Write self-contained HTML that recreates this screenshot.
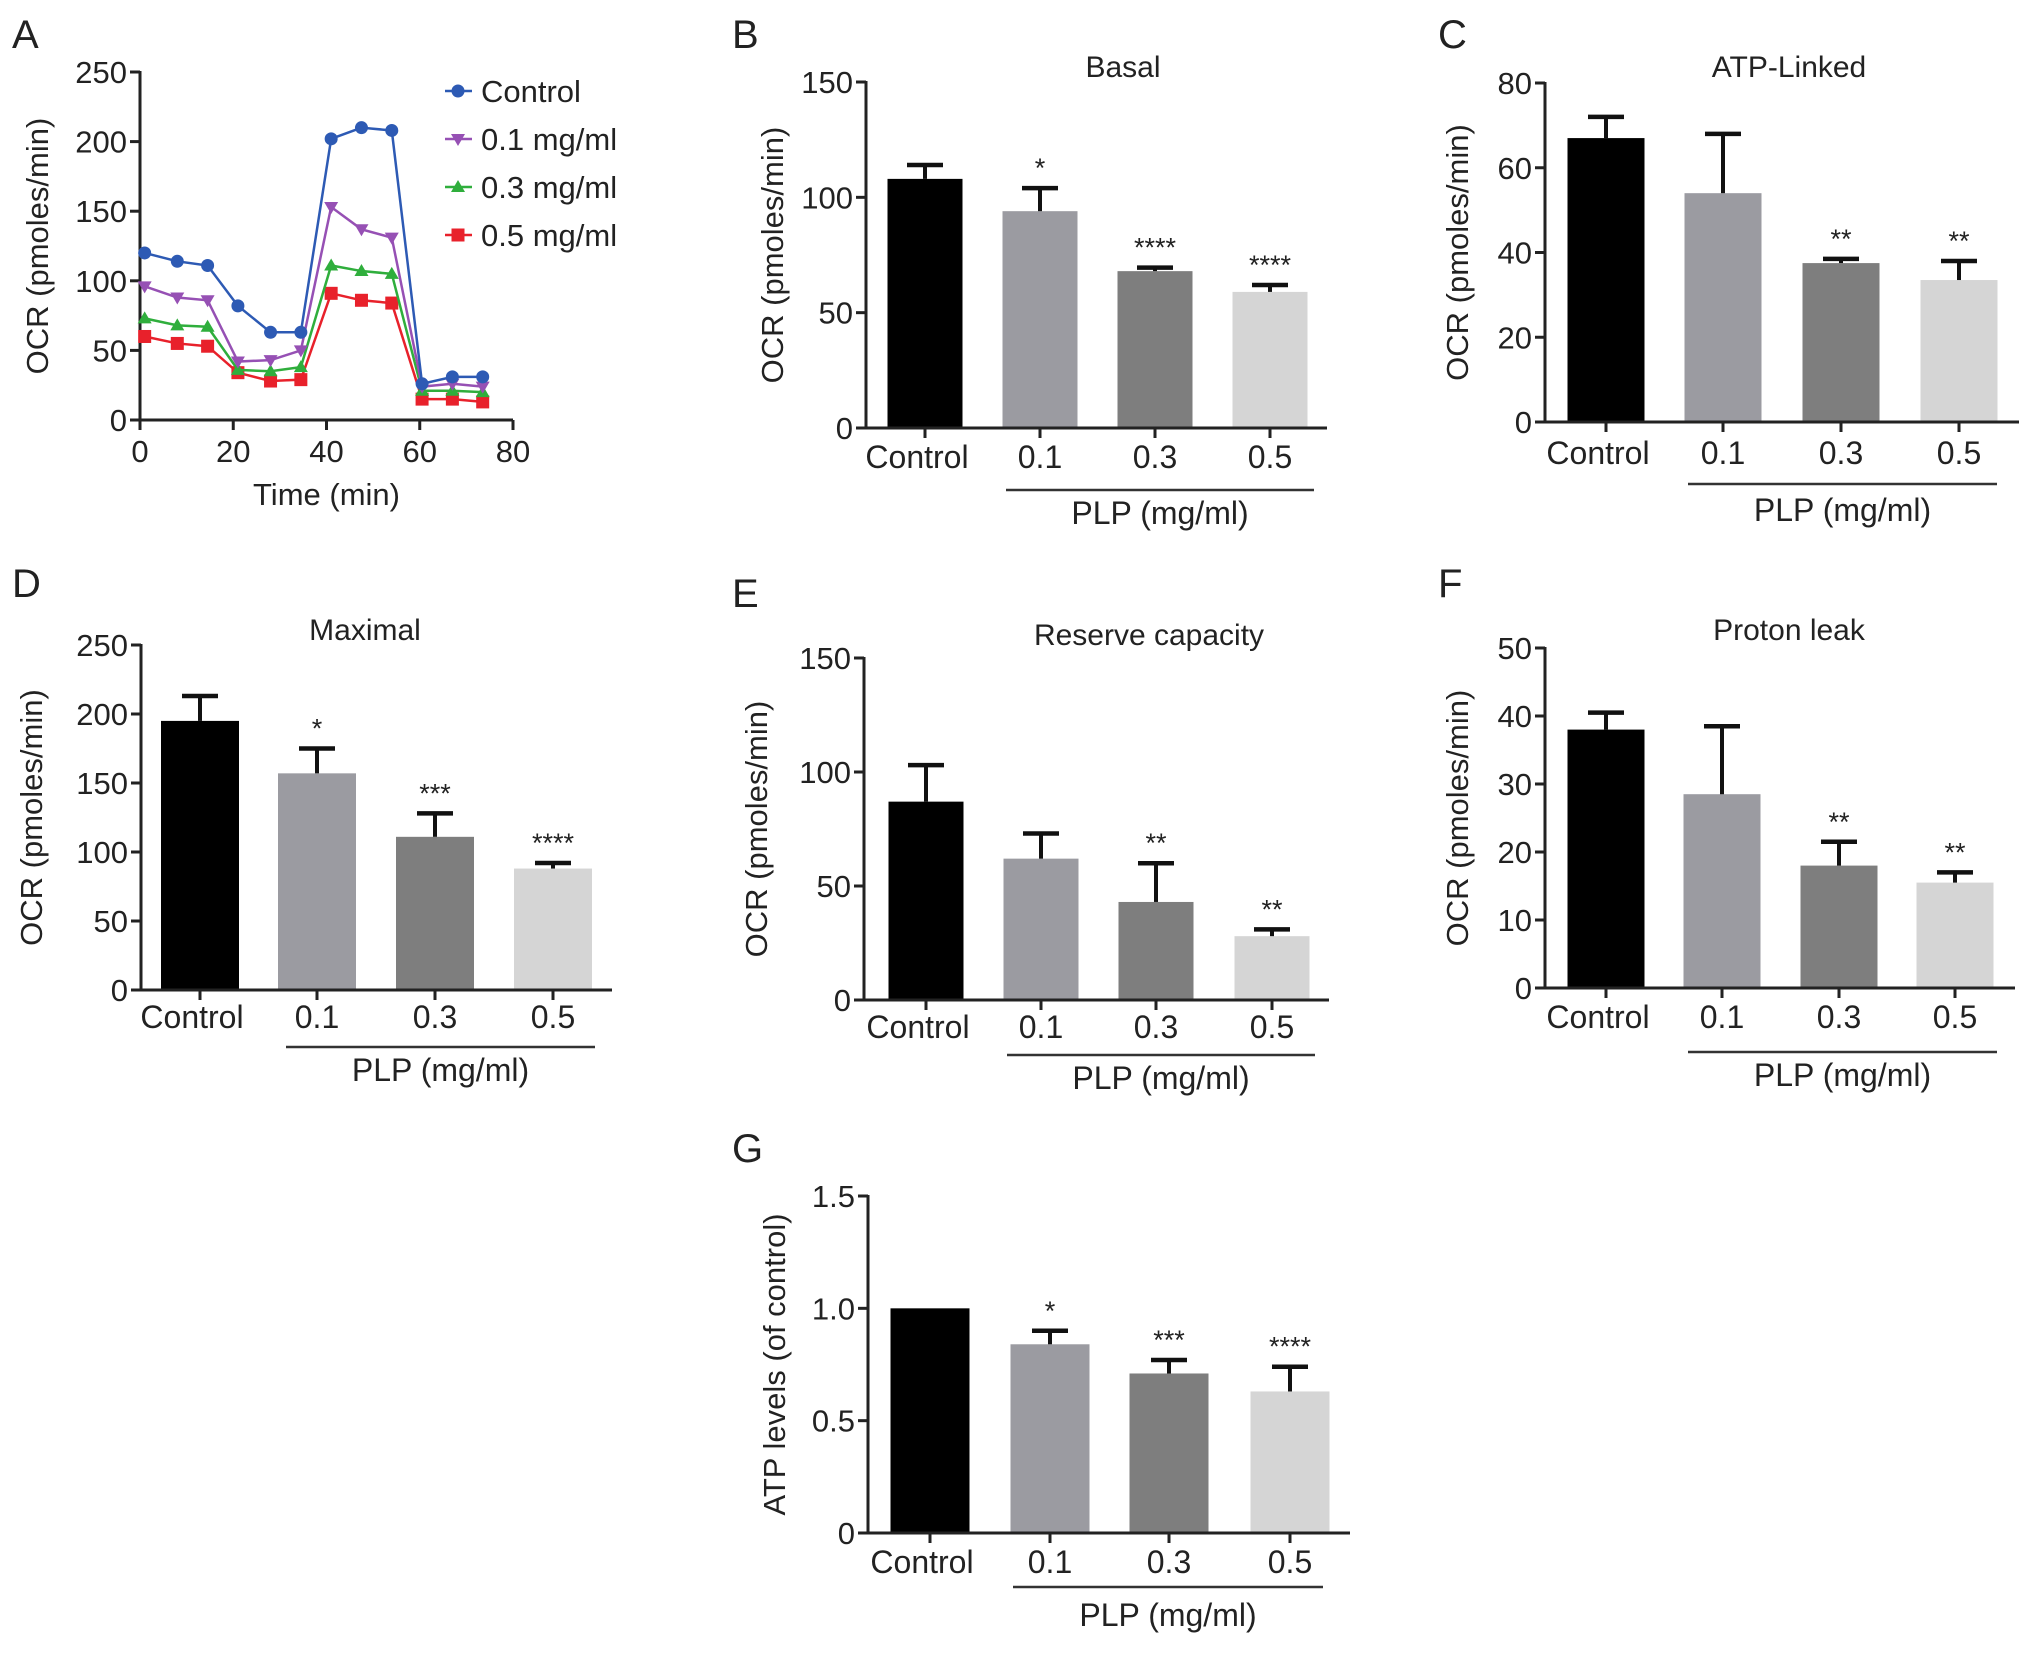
<!DOCTYPE html>
<html><head><meta charset="utf-8"><style>
html,body{margin:0;padding:0;background:#fff}
svg{display:block;font-family:"Liberation Sans",Arial,sans-serif}
</style></head><body>
<svg id="fig" width="2032" height="1659" viewBox="0 0 2032 1659" xmlns="http://www.w3.org/2000/svg"></svg>
<script>
// ---- Panel A data ----
const timeA = [1, 8, 14.5, 21, 28, 34.5, 41, 47.5, 54, 60.5, 67, 73.5];
const ctrlA = [120, 114, 111, 82, 63, 63, 202, 210, 208, 26, 31, 31];
const p01A = [96, 88, 86, 42, 43, 50, 153, 137, 131, 24, 26, 24];
const p03A = [73, 68, 67, 36, 35, 38, 111, 107, 105, 21, 21, 20];
const p05A = [60, 55, 53, 34, 28, 29, 91, 86, 84, 15, 15, 13];
const seriesNamesA = ["Control", "0.1 mg/ml", "0.3 mg/ml", "0.5 mg/ml"];
const yTicksA = [0, 50, 100, 150, 200, 250];
const xTicksA = [0, 20, 40, 60, 80];
// ---- Bar panel data ----
const categories = ["Control", "0.1", "0.3", "0.5"];
const basalVals = [108, 94, 68, 59];
const basalErr = [114, 104, 69.5, 62];
const basalStars = ["", "*", "****", "****"];
const basalTicks = [0, 50, 100, 150];
const atpVals = [67, 54, 37.5, 33.5];
const atpErr = [72, 68, 38.5, 38];
const atpStars = ["", "", "**", "**"];
const atpTicks = [0, 20, 40, 60, 80];
const maxVals = [195, 157, 111, 88];
const maxErr = [213, 175, 128, 92];
const maxStars = ["", "*", "***", "****"];
const maxTicks = [0, 50, 100, 150, 200, 250];
const resVals = [87, 62, 43, 28];
const resErr = [103, 73, 60, 31];
const resStars = ["", "", "**", "**"];
const resTicks = [0, 50, 100, 150];
const leakVals = [38, 28.5, 18, 15.5];
const leakErr = [40.5, 38.5, 21.5, 17];
const leakStars = ["", "", "**", "**"];
const leakTicks = [0, 10, 20, 30, 40, 50];
const atpLvlVals = [1.0, 0.84, 0.71, 0.63];
const atpLvlErr = [1.0, 0.90, 0.77, 0.74];
const atpLvlStars = ["", "*", "***", "****"];
const atpLvlTicks = ["0", "0.5", "1.0", "1.5"];

const NS = "http://www.w3.org/2000/svg";
const svg = document.getElementById("fig");
function mk(tag, attrs, parent, text) {
  const e = document.createElementNS(NS, tag);
  for (const k in attrs) e.setAttribute(k, attrs[k]);
  if (text !== undefined) e.textContent = text;
  (parent || svg).appendChild(e);
  return e;
}
function txt(x, y, s, size, anchor, parent, extra) {
  const a = {x: x, y: y, "font-size": size, "text-anchor": anchor || "middle", fill: "#222"};
  if (extra) for (const k in extra) a[k] = extra[k];
  return mk("text", a, parent, s);
}

const letters = [["A",12,48],["B",732,48],["C",1438,48],["D",12,597],["E",732,607],["F",1438,597],["G",732,1162]];
letters.forEach(l => {
  const t = txt(l[1], l[2], l[0], 40, "start");
  
  
});

// ---- Panel A ----
(function(){
  const g = mk("g", {});
  
  
  const x0 = 140, x1 = 513, y0 = 420, y1 = 72;
  const sx = v => x0 + (v - 0) / 80 * (x1 - x0);
  const sy = v => y0 - v / 250 * (y0 - y1);
  mk("line", {x1: x0, y1: y0, x2: x0, y2: y1 - 1, stroke: "#222", "stroke-width": 3}, g);
  mk("line", {x1: x0 - 1, y1: y0, x2: x1, y2: y0, stroke: "#222", "stroke-width": 3}, g);
  yTicksA.forEach(v => {
    mk("line", {x1: x0 - 10, y1: sy(v), x2: x0, y2: sy(v), stroke: "#222", "stroke-width": 3}, g);
    txt(x0 - 13, sy(v) + 11, String(v), 31, "end", g);
  });
  xTicksA.forEach(v => {
    mk("line", {x1: sx(v), y1: y0, x2: sx(v), y2: y0 + 10, stroke: "#222", "stroke-width": 3}, g);
    txt(sx(v), y0 + 42, String(v), 31, "middle", g);
  });
  const xt = txt((x0 + x1) / 2, 505, "Time (min)", 31, "middle", g);
  
  
  const yt = txt(0, 0, "OCR (pmoles/min)", 31, "middle", g, {transform: "translate(48," + (y0 + y1) / 2 + ") rotate(-90)"});
  
  
  const all = [ctrlA, p01A, p03A, p05A];
  const cols = ["#2d5ab4", "#9650b4", "#2fae3c", "#e8212b"];
  const shapes = ["circle", "tridown", "triup", "square"];
  function marker(x, y, shp, col, parent) {
    if (shp === "circle") return mk("circle", {cx: x, cy: y, r: 6.5, fill: col}, parent);
    if (shp === "square") return mk("rect", {x: x - 6.5, y: y - 6.5, width: 13, height: 13, fill: col}, parent);
    if (shp === "triup") return mk("polygon", {points: `${x},${y-7} ${x-7},${y+5} ${x+7},${y+5}`, fill: col}, parent);
    return mk("polygon", {points: `${x},${y+7} ${x-7},${y-5} ${x+7},${y-5}`, fill: col}, parent);
  }
  for (let s = 3; s >= 0; s--) {
    const sg = mk("g", {}, g);
    
    
    const pts = timeA.map((t, i) => sx(t) + "," + sy(all[s][i])).join(" ");
    mk("polyline", {points: pts, fill: "none", stroke: cols[s], "stroke-width": 2.5}, sg);
    timeA.forEach((t, i) => marker(sx(t), sy(all[s][i]), shapes[s], cols[s], sg));
  }
  const lg = mk("g", {}, g);
  
  
  seriesNamesA.forEach((n, i) => {
    const y = 91 + i * 48;
    const eg = mk("g", {}, lg);
    
    
    mk("line", {x1: 445, y1: y, x2: 472, y2: y, stroke: cols[i], "stroke-width": 2.5}, eg);
    marker(458, y, shapes[i], cols[i], eg);
    txt(481, y + 11, n, 31, "start", eg);
  });
})();

// ---- Bar panels ----
const barColors = ["#000000", "#9b9ba1", "#7e7e7e", "#d5d5d5"];
function barPanel(cfg) {
  const g = mk("g", {});
  
  
  const {ax, ay0, ayTop, axEnd, ymax, centers, bw} = cfg;
  const sy = v => ay0 - v / ymax * (ay0 - ayTop);
  if (cfg.title) txt(cfg.titleX, cfg.titleY, cfg.title, 30, "middle", g);
  cfg.vals.forEach((v, i) => {
    const c = centers[i];
    const b = mk("rect", {x: c - bw / 2, y: sy(v), width: bw, height: ay0 - sy(v), fill: barColors[i]}, g);
    
    
    const e = cfg.err[i];
    if (e > v) {
      const col = "#111";
      mk("line", {x1: c, y1: sy(v), x2: c, y2: sy(e), stroke: col, "stroke-width": 4}, g);
      mk("line", {x1: c - 18, y1: sy(e), x2: c + 18, y2: sy(e), stroke: col, "stroke-width": 4.5}, g);
    }
    if (cfg.stars[i]) txt(c, sy(Math.max(e, v)) - 11, cfg.stars[i], 27, "middle", g);
  });
  mk("line", {x1: ax, y1: ay0, x2: ax, y2: ayTop - 1, stroke: "#222", "stroke-width": 3}, g);
  mk("line", {x1: ax - 10, y1: ay0, x2: axEnd, y2: ay0, stroke: "#222", "stroke-width": 3}, g);
  cfg.ticks.forEach((t, i) => {
    const v = (i / (cfg.ticks.length - 1)) * ymax;
    mk("line", {x1: ax - 10, y1: sy(v), x2: ax, y2: sy(v), stroke: "#222", "stroke-width": 3}, g);
    txt(ax - 13, sy(v) + 11, String(t), 31, "end", g);
  });
  categories.forEach((c, i) => {
    mk("line", {x1: centers[i], y1: ay0, x2: centers[i], y2: ay0 + 10, stroke: "#222", "stroke-width": 3}, g);
    txt(centers[i] + (i === 0 ? -8 : 0), cfg.labY, c, 32, "middle", g);
  });
  mk("line", {x1: cfg.brX1, y1: cfg.brY, x2: cfg.brX2, y2: cfg.brY, stroke: "#333", "stroke-width": 2.5}, g);
  txt((cfg.brX1 + cfg.brX2) / 2, cfg.plpY, "PLP (mg/ml)", 32, "middle", g);
  const yt = txt(0, 0, cfg.ytitle, 31, "middle", g, {transform: `translate(${cfg.ytX},${(ay0 + ayTop) / 2}) rotate(-90)`});
  
  
}
const OCR = "OCR (pmoles/min)";
barPanel({name: "panel-b-basal", title: "Basal", titleX: 1123, titleY: 77, ax: 866, ay0: 428, ayTop: 82, axEnd: 1327, ymax: 150,
  centers: [925, 1040, 1155, 1270], bw: 75, vals: basalVals, err: basalErr, stars: basalStars, ticks: basalTicks,
  labY: 468, brY: 490, brX1: 1006, brX2: 1314, plpY: 524, ytitle: OCR, ytX: 783});
barPanel({name: "panel-c-atp-linked", title: "ATP-Linked", titleX: 1789, titleY: 77, ax: 1545, ay0: 422, ayTop: 83, axEnd: 2019, ymax: 80,
  centers: [1606, 1723, 1841, 1959], bw: 77, vals: atpVals, err: atpErr, stars: atpStars, ticks: atpTicks,
  labY: 464, brY: 484, brX1: 1688, brX2: 1997, plpY: 521, ytitle: OCR, ytX: 1468});
barPanel({name: "panel-d-maximal", title: "Maximal", titleX: 365, titleY: 640, ax: 141, ay0: 990, ayTop: 645, axEnd: 612, ymax: 250,
  centers: [200, 317, 435, 553], bw: 78, vals: maxVals, err: maxErr, stars: maxStars, ticks: maxTicks,
  labY: 1028, brY: 1047, brX1: 286, brX2: 595, plpY: 1081, ytitle: OCR, ytX: 42});
barPanel({name: "panel-e-reserve-capacity", title: "Reserve capacity", titleX: 1149, titleY: 645, ax: 864, ay0: 1000, ayTop: 658, axEnd: 1329, ymax: 150,
  centers: [926, 1041, 1156, 1272], bw: 75, vals: resVals, err: resErr, stars: resStars, ticks: resTicks,
  labY: 1038, brY: 1055, brX1: 1007, brX2: 1315, plpY: 1089, ytitle: OCR, ytX: 767});
barPanel({name: "panel-f-proton-leak", title: "Proton leak", titleX: 1789, titleY: 640, ax: 1545, ay0: 988, ayTop: 648, axEnd: 2015, ymax: 50,
  centers: [1606, 1722, 1839, 1955], bw: 77, vals: leakVals, err: leakErr, stars: leakStars, ticks: leakTicks,
  labY: 1028, brY: 1052, brX1: 1688, brX2: 1997, plpY: 1086, ytitle: OCR, ytX: 1468});
barPanel({name: "panel-g-atp-levels", title: "", titleX: 0, titleY: 0, ax: 868, ay0: 1533, ayTop: 1196, axEnd: 1350, ymax: 1.5,
  centers: [930, 1050, 1169, 1290], bw: 79, vals: atpLvlVals, err: atpLvlErr, stars: atpLvlStars, ticks: atpLvlTicks,
  labY: 1573, brY: 1587, brX1: 1013, brX2: 1323, plpY: 1626, ytitle: "ATP levels (of control)", ytX: 785});
</script>
</body></html>
